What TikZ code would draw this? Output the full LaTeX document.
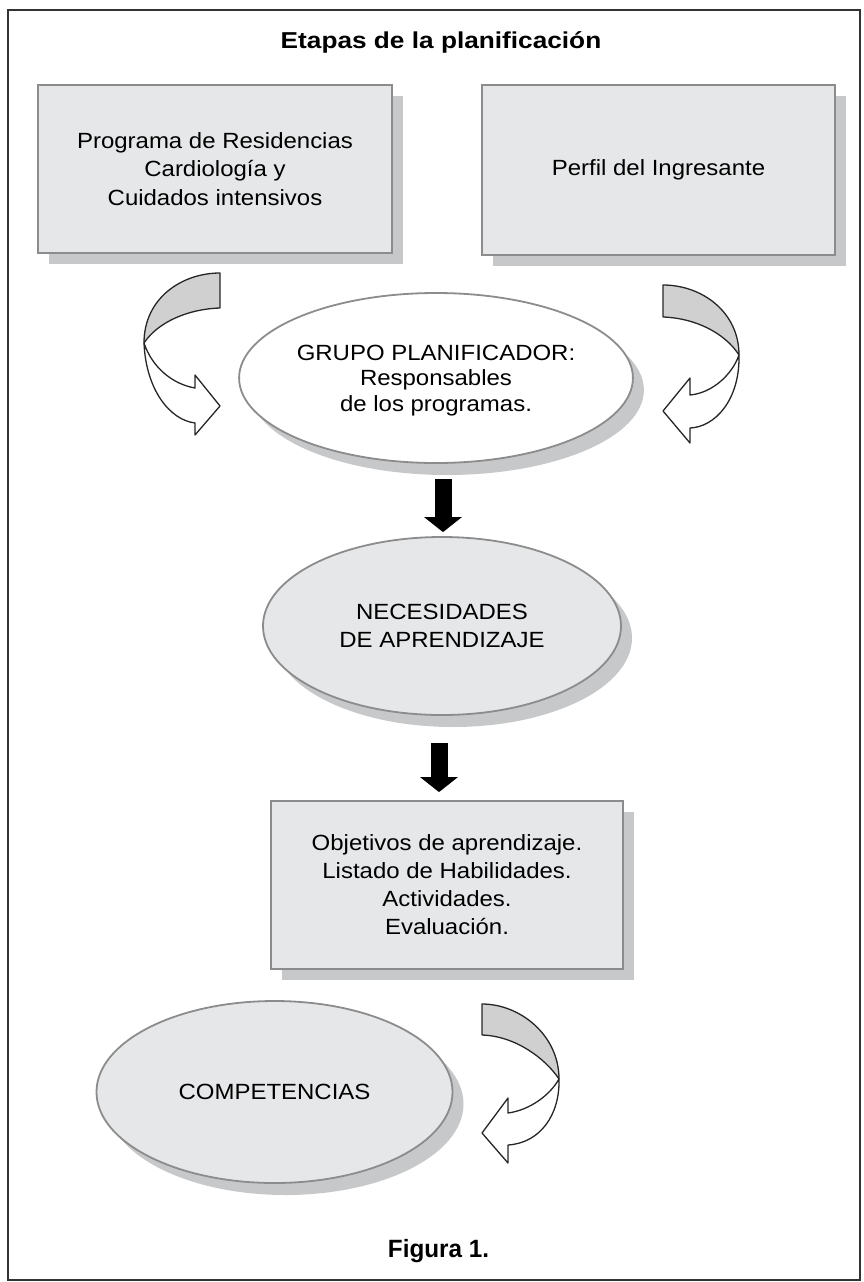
\documentclass[tikz,border=0pt]{standalone}
\usepackage{fontspec}
\setmainfont{Liberation Sans}
\newfontfamily\bodyf[FakeStretch=1.09]{Liberation Sans}
\newfontfamily\titlef[FakeStretch=1.14]{Liberation Sans}
\newfontfamily\figf[FakeStretch=0.97]{Liberation Sans}
\usetikzlibrary{shapes.geometric,shadows,arrows.meta}
\definecolor{boxfill}{HTML}{E6E7E8}
\definecolor{shadowc}{HTML}{C7C8CA}
\definecolor{edgec}{HTML}{8C8C8C}
\definecolor{arrowgray}{HTML}{D0D0D0}
\definecolor{framec}{HTML}{333333}
\begin{document}
\begin{tikzpicture}[x=1pt,y=-1pt,
  boxnode/.style={rectangle, draw=edgec, line width=1.8pt, fill=boxfill, inner sep=0pt, align=center,
    font=\bodyf\fontsize{22}{28.5}\selectfont,
    drop shadow={shadow xshift=11pt, shadow yshift=-11pt, fill=shadowc, opacity=1}},
  ellnode/.style={ellipse, draw=edgec, line width=1.8pt, fill=boxfill, inner sep=0pt, align=center,
    font=\bodyf\fontsize{22}{28}\selectfont,
    drop shadow={shadow xshift=11pt, shadow yshift=-12pt, fill=shadowc, opacity=1}},
  fatarrow/.style={line width=17pt, -{Triangle[length=15pt,width=37pt]}, black},
  ribbongray/.style={draw=black!85, line width=1.3pt, fill=arrowgray, line join=round},
  ribbonwhite/.style={draw=black!85, line width=1.3pt, fill=white, line join=round}]

\useasboundingbox (0,0) rectangle (863,1282);
\draw[draw=framec, line width=2pt] (8,10) rectangle (860,1280);

\node[font=\titlef\bfseries\fontsize{23}{26}\selectfont, anchor=base] (title) at (441,48) {Etapas de la planificación};

\node[boxnode, minimum width=354pt, minimum height=168pt] (b1) at (215,169)
  {Programa de Residencias\\Cardiología y\\Cuidados intensivos};
\node[boxnode, minimum width=353pt, minimum height=170pt] (b2) at (658.5,170)
  {Perfil del Ingresante};

\node[ellnode, fill=white, minimum width=352pt, minimum height=170pt, text depth=0pt,
  font=\bodyf\fontsize{22}{25.5}\selectfont] (e1) at (436,378)
  {GRUPO PLANIFICADOR:\\Responsables\\de los programas.};
\node[ellnode, minimum width=358pt, minimum height=178pt] (e2) at (442,626)
  {NECESIDADES\\DE APRENDIZAJE};
\node[boxnode, minimum width=352pt, minimum height=168pt, font=\bodyf\fontsize{22}{28}\selectfont] (b3) at (447,885)
  {Objetivos de aprendizaje.\\Listado de Habilidades.\\Actividades.\\Evaluación.};
\node[ellnode, minimum width=356pt, minimum height=182pt] (e3) at (274.5,1092)
  {COMPETENCIAS};

\node[font=\figf\bfseries\fontsize{25}{28}\selectfont, anchor=base] (fig) at (438.5,1257) {Figura 1.};

% straight connectors
\draw[fatarrow] ([xshift=7pt,yshift=-15pt]e1.south) -- ([xshift=1pt,yshift=4pt]e2.north);
\draw[fatarrow] ([xshift=-3pt,yshift=-27pt]e2.south) -- ([xshift=-8pt,yshift=8pt]b3.north);

% left curved arrow
\draw[ribbongray] (220,273) .. controls (182,273) and (144,298) .. (144,343)
  .. controls (158,322) and (188,309) .. (220,308) -- cycle;
\draw[ribbonwhite] (144,343) .. controls (146,390) and (170,420) .. (195,423)
  -- (195,435) -- (220,406) -- (195,375) -- (195,388)
  .. controls (172,384) and (152,367) .. (144,343) -- cycle;

% right curved arrow
\draw[ribbongray] (663,285) .. controls (702,285) and (739,312) .. (739,355)
  .. controls (725,333) and (695,318) .. (663,317) -- cycle;
\draw[ribbonwhite] (739,355) .. controls (740,400) and (715,427) .. (690,428)
  -- (690,443) -- (663,411) -- (690,378) -- (690,395)
  .. controls (712,393) and (732,375) .. (739,355) -- cycle;

% bottom curved arrow
\draw[ribbongray] (482,1004) .. controls (520,1004) and (559,1035) .. (559,1079)
  .. controls (545,1058) and (515,1036) .. (482,1035) -- cycle;
\draw[ribbonwhite] (559,1079) .. controls (560,1115) and (540,1143) .. (508,1145)
  -- (508,1163) -- (482,1133) -- (508,1098) -- (508,1113)
  .. controls (530,1110) and (550,1095) .. (559,1079) -- cycle;
\end{tikzpicture}
\end{document}
